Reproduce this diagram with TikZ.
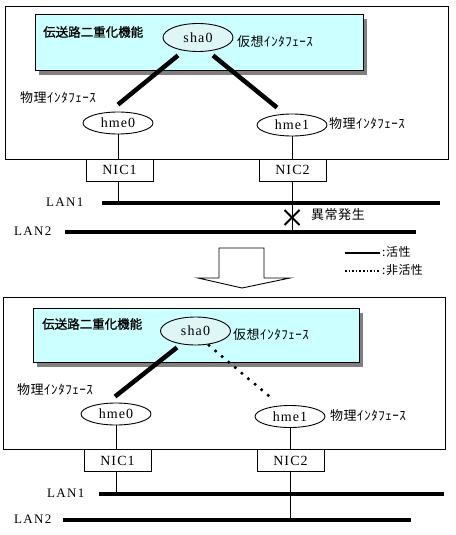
\documentclass[tikz,border=0pt]{standalone}
\usepackage{fontspec}
\setmainfont{Liberation Serif}
\newfontfamily\jp[LetterSpace=4]{Noto Sans CJK JP}
\newfontfamily\jpb[FakeBold=1.2]{Noto Sans CJK JP}
\newfontfamily\lat[LetterSpace=8]{Liberation Serif}
\newfontfamily\latw[LetterSpace=10]{Liberation Serif}
\usetikzlibrary{calc,shapes.geometric,shapes.misc}
\definecolor{panel}{RGB}{204,255,255}
\definecolor{ellfill}{RGB}{222,246,246}
\definecolor{shadowc}{RGB}{128,128,128}
\begin{document}
\begin{tikzpicture}[x=1pt,y=-1pt,
  thin/.style={line width=0.9pt},
  ell/.style={ellipse,draw,line width=0.9pt,fill=white,inner sep=0pt,minimum width=70pt,minimum height=22pt,font=\lat\fontsize{14}{16}\selectfont},
  vell/.style={ell,fill=ellfill,minimum height=28pt},
  nic/.style={draw,line width=0.9pt,fill=white,minimum width=67pt,minimum height=22pt,inner sep=0pt,font=\lat\fontsize{14}{16}\selectfont},
  jplabel/.style={anchor=west,inner sep=0pt,font=\jp\fontsize{13}{15}\selectfont},
  leglabel/.style={anchor=west,inner sep=0pt,font=\jp\fontsize{12}{14}\selectfont},
  titlelabel/.style={anchor=west,inner sep=0pt,font=\jpb\fontsize{12.5}{15}\selectfont},
  lanlabel/.style={anchor=west,inner sep=0pt,font=\latw\fontsize{13}{15}\selectfont},
  lan/.style={line width=4pt},
  strong/.style={line width=4.5pt},
  idle/.style={line width=3.5pt,line cap=round,dash pattern=on 0pt off 8.6pt}
]
\useasboundingbox[fill=white] (0,0) rectangle (455,535);

% ================= TOP (before) =================
\draw[thin] (5,6) rectangle (448,159);
\fill[shadowc] (39,19) rectangle (367,75);
\draw[thin,fill=panel] (35,14) rectangle (363,70);
\node[titlelabel] (titlea) at (43,32) {伝送路二重化機能};

\node[vell] (sha0a) at (198,37.5) {sha0};
\node[jplabel] (virta) at (237,42) {仮想ｲﾝﾀﾌｪｰｽ};
\node[ell] (hme0a) at (118,123) {hme0};
\node[ell] (hme1a) at (292,125) {hme1};
\node[jplabel] (phya1) at (20,98) {物理ｲﾝﾀﾌｪｰｽ};
\node[jplabel] (phya2) at (329,124) {物理ｲﾝﾀﾌｪｰｽ};

\draw[strong] ($(sha0a.south)+(-20,3.5)$) -- ($(hme0a.north)+(0,-7)$);
\draw[strong] ($(sha0a.south)+(15,3.5)$) -- ($(hme1a.north)+(-15,-6)$);

\node[nic] (nic1a) at (119.5,170) {NIC1};
\node[nic] (nic2a) at (292.5,170) {NIC2};
\draw[thin] (hme0a.south) -- (hme0a.south |- nic1a.north);
\draw[thin] (hme1a.south) -- (hme1a.south |- nic2a.north);

\coordinate (lan1a) at (102,203);
\coordinate (lan1aE) at (440,203);
\coordinate (lan2a) at (65,232);
\coordinate (lan2aE) at (416,232);
\draw[lan] (lan1a) -- (lan1aE);
\draw[lan] (lan2a) -- (lan2aE);
\node[lanlabel] (lan1alabel) at (46,202) {LAN1};
\node[lanlabel] (lan2alabel) at (14,231) {LAN2};
\draw[thin] (nic1a.south -| hme0a) -- (hme0a |- lan1a);
\draw[thin] (nic2a.south -| hme1a) -- (hme1a |- lan2a);

\node[draw,cross out,line width=2pt,minimum size=13pt,inner sep=0pt] (fault) at (292,217.5) {};
\node[jplabel] (faultlabel) at (311,215) {異常発生};

% ================= transition arrow =================
\draw[thin,fill=white] (219,248) -- (264,248) -- (264,278) -- (290,278) -- (242,288) -- (198,278) -- (219,278) -- cycle;

% ================= legend =================
\coordinate (legA1) at (345,252.5);
\coordinate (legA2) at (380,252.5);
\draw[line width=2pt] (legA1) -- (legA2);
\node[leglabel] (legAtext) at (382,252) {:活性};
\coordinate (legB1) at (345,271);
\coordinate (legB2) at (380,271);
\draw[line width=1.6pt,dash pattern=on 1.6pt off 2pt] (legB1) -- (legB2);
\node[leglabel] (legBtext) at (382,270) {:非活性};

% ================= BOTTOM (after) =================
\draw[thin] (3,297) rectangle (445,449);
\fill[shadowc] (37,313) rectangle (363,367);
\draw[thin,fill=panel] (33,308) rectangle (359,362);
\node[titlelabel] (titleb) at (42,324) {伝送路二重化機能};

\node[vell] (sha0b) at (195.5,331) {sha0};
\node[jplabel] (virtb) at (233,335) {仮想ｲﾝﾀﾌｪｰｽ};
\node[ell] (hme0b) at (116,414) {hme0};
\node[ell] (hme1b) at (290,416.5) {hme1};
\node[jplabel] (phyb1) at (17,390) {物理ｲﾝﾀﾌｪｰｽ};
\node[jplabel] (phyb2) at (330,416) {物理ｲﾝﾀﾌｪｰｽ};

\draw[strong] ($(sha0b.south)+(-18.5,2)$) -- ($(hme0b.north)+(-1,-6)$);
\draw[idle] ($(sha0b.south)+(13.5,0)$) -- ($(hme1b.north)+(-18,-6.5)$);

\node[nic] (nic1b) at (117.5,460.5) {NIC1};
\node[nic] (nic2b) at (290.5,460.5) {NIC2};
\draw[thin] (hme0b.south) -- (hme0b.south |- nic1b.north);
\draw[thin] (hme1b.south) -- (hme1b.south |- nic2b.north);

\coordinate (lan1b) at (99,494);
\coordinate (lan1bE) at (444,494);
\coordinate (lan2b) at (63,520);
\coordinate (lan2bE) at (411,520);
\draw[lan] (lan1b) -- (lan1bE);
\draw[lan] (lan2b) -- (lan2bE);
\node[lanlabel] (lan1blabel) at (47,493) {LAN1};
\node[lanlabel] (lan2blabel) at (14,519) {LAN2};
\draw[thin] (nic1b.south -| hme0b) -- (hme0b |- lan1b);
\draw[thin] (nic2b.south -| hme1b) -- (hme1b |- lan2b);
\end{tikzpicture}
\end{document}
